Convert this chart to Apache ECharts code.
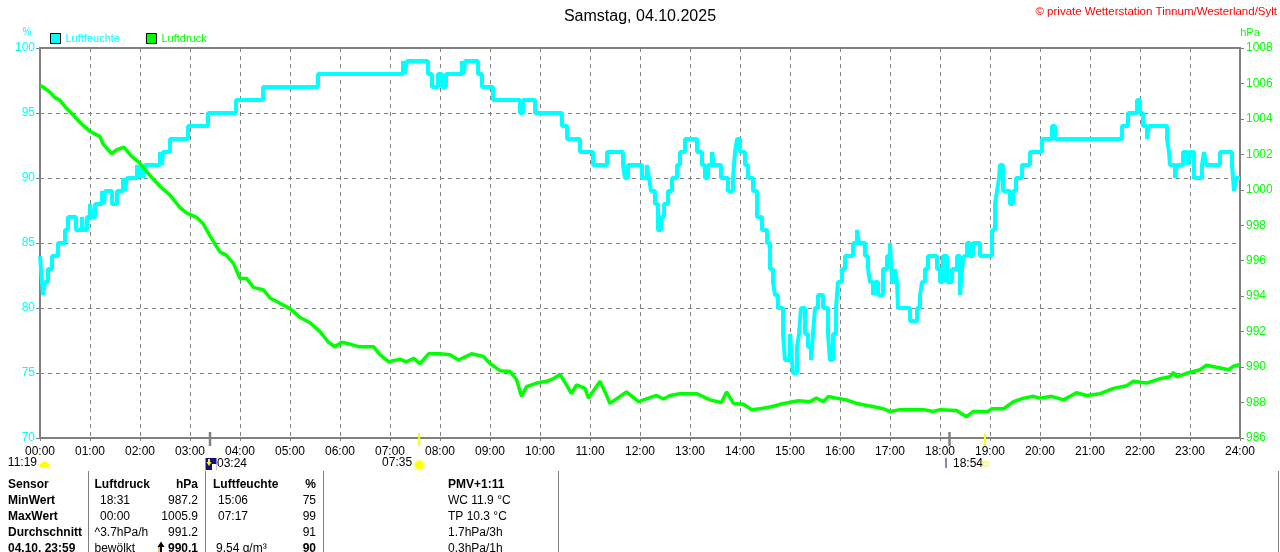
<!DOCTYPE html>
<html><head><meta charset="utf-8">
<script src="https://cdn.jsdelivr.net/npm/echarts@6/dist/echarts.min.js"></script>
<style>html,body{margin:0;padding:0;background:#fff}#c{width:1280px;height:552px}</style>
</head><body><div id="c"></div>
<script>
const FONT = '"Liberation Sans", Arial, sans-serif';

const hourLabels = ['00:00','01:00','02:00','03:00','04:00','05:00','06:00','07:00','08:00','09:00','10:00','11:00','12:00',
  '13:00','14:00','15:00','16:00','17:00','18:00','19:00','20:00','21:00','22:00','23:00','24:00'];

// Luftfeuchte [hour, %] (step values)
const humidity = [[0,84],[0.02,83],[0.06,81],[0.10,82],[0.16,83],[0.24,84],[0.36,85],[0.50,86],[0.56,87],[0.72,86],[0.84,87],[0.86,86],
  [0.94,87],[1.00,88],[1.04,87],[1.10,88],[1.24,89],[1.28,88],[1.30,89],[1.44,88],[1.54,89],[1.66,90],[1.70,89],[1.74,90],[1.94,91],
  [1.98,90],[2.02,91],[2.06,90],[2.10,91],[2.40,92],[2.44,91],[2.46,92],[2.60,93],[2.96,94],[3.36,95],[3.92,96],[4.46,97],[5.56,98],
  [7.26,99],[7.30,98],[7.34,99],[7.76,98],[7.84,97],[7.96,98],[8.04,97],[8.12,98],[8.44,99],[8.48,98],[8.50,99],[8.76,98],[8.84,97],
  [9.06,96],[9.60,95],[9.66,96],[9.90,95],[10.44,94],[10.54,93],[10.80,92],[11.06,91],[11.34,92],[11.66,91],[11.70,90],[11.76,91],
  [12.04,90],[12.14,91],[12.18,90],[12.22,89],[12.30,88],[12.36,86],[12.42,87],[12.48,88],[12.56,89],[12.64,90],[12.74,91],[12.80,92],
  [12.90,93],[13.14,92],[13.24,91],[13.30,90],[13.36,91],[13.44,92],[13.48,91],[13.62,90],[13.76,89],[13.86,90],[13.90,92],[13.94,93],
  [14.00,92],[14.10,91],[14.16,90],[14.26,89],[14.34,87],[14.44,86],[14.54,85],[14.60,83],[14.66,82],[14.70,81],[14.76,80],[14.86,78],
  [14.90,76],[15.00,78],[15.04,76],[15.06,75],[15.14,77],[15.18,78],[15.22,80],[15.30,78],[15.36,77],[15.42,76],[15.46,78],[15.50,80],
  [15.56,81],[15.66,80],[15.76,78],[15.80,76],[15.86,78],[15.92,80],[15.96,82],[16.04,83],[16.10,84],[16.26,85],[16.34,86],[16.38,85],
  [16.50,84],[16.56,83],[16.60,82],[16.66,81],[16.70,82],[16.76,81],[16.86,83],[16.94,84],[17.00,85],[17.04,82],[17.10,83],[17.14,82],
  [17.16,80],[17.40,79],[17.54,80],[17.60,81],[17.64,82],[17.70,83],[17.76,84],[17.94,83],[18.00,82],[18.06,84],[18.14,82],[18.24,83],
  [18.34,84],[18.40,81],[18.44,83],[18.48,84],[18.54,85],[18.60,84],[18.66,85],[18.80,84],[19.04,86],[19.10,88],[19.14,89],[19.18,90],
  [19.20,91],[19.26,89],[19.40,88],[19.46,89],[19.52,90],[19.64,91],[19.80,92],[20.04,93],[20.24,94],[20.30,93],[21.64,94],[21.76,95],
  [21.94,96],[22.00,95],[22.06,94],[22.14,93],[22.18,94],[22.54,93],[22.58,92],[22.60,91],[22.70,90],[22.74,91],[22.86,92],[22.96,91],
  [23.00,92],[23.08,90],[23.24,91],[23.28,92],[23.32,91],[23.60,92],[23.84,91],[23.86,90],[23.88,89],[23.92,90],[24.00,90]];

// Luftdruck [hour, hPa]
const pressure = [[0,1005.9],[0.06,1005.8],[0.20,1005.5],[0.30,1005.2],[0.40,1005.05],[0.53,1004.6],[0.67,1004.2],[0.80,1003.8],
  [1.00,1003.3],[1.20,1003.0],[1.26,1002.6],[1.43,1002.05],[1.53,1002.25],[1.68,1002.4],[1.83,1001.9],[2.00,1001.5],[2.20,1000.8],
  [2.40,1000.2],[2.60,999.7],[2.80,999.0],[2.93,998.7],[3.13,998.45],[3.26,998.1],[3.40,997.4],[3.53,996.8],[3.60,996.5],[3.73,996.3],
  [3.87,995.85],[4.00,995.0],[4.13,995.0],[4.27,994.5],[4.47,994.35],[4.60,993.9],[4.80,993.6],[5.00,993.3],[5.20,992.8],[5.40,992.5],
  [5.60,992.0],[5.77,991.4],[5.90,991.15],[6.03,991.4],[6.20,991.3],[6.37,991.15],[6.67,991.15],[6.80,990.7],[6.97,990.3],[7.20,990.45],
  [7.33,990.3],[7.47,990.5],[7.60,990.2],[7.77,990.75],[8.00,990.75],[8.20,990.7],[8.37,990.4],[8.63,990.75],[8.87,990.6],[9.00,990.2],
  [9.20,989.8],[9.40,989.75],[9.53,989.3],[9.63,988.35],[9.73,988.9],[9.93,989.1],[10.13,989.2],[10.27,989.35],[10.40,989.6],[10.53,989.0],
  [10.63,988.5],[10.73,989.0],[10.90,988.8],[10.97,988.25],[11.20,989.2],[11.30,988.6],[11.40,987.95],[11.60,988.35],[11.73,988.6],
  [11.97,988.05],[12.17,988.25],[12.33,988.4],[12.47,988.2],[12.60,988.4],[12.80,988.5],[13.13,988.5],[13.40,988.15],[13.63,988.0],
  [13.73,988.6],[13.87,987.95],[14.07,987.9],[14.23,987.6],[14.40,987.65],[14.60,987.75],[14.80,987.9],[15.17,988.1],[15.40,988.05],
  [15.53,988.25],[15.67,988.05],[15.77,988.35],[15.93,988.25],[16.13,988.15],[16.33,987.95],[16.60,987.8],[16.87,987.65],[17.00,987.5],
  [17.20,987.6],[17.40,987.6],[17.67,987.6],[17.87,987.5],[18.00,987.6],[18.33,987.55],[18.53,987.2],[18.67,987.5],[18.97,987.5],
  [19.03,987.65],[19.27,987.65],[19.47,988.05],[19.67,988.25],[19.87,988.35],[20.00,988.25],[20.23,988.35],[20.47,988.15],[20.73,988.55],
  [20.93,988.4],[21.20,988.5],[21.47,988.8],[21.73,988.95],[21.87,989.2],[22.13,989.1],[22.40,989.35],[22.60,989.45],[22.67,989.7],
  [22.73,989.45],[22.93,989.65],[23.20,989.85],[23.33,990.1],[23.60,989.95],[23.77,989.85],[23.87,990.05],[24.00,990.15]];

// events below the time axis (hours)
const moonTimes = [3.4, 18.19];
const sunTimes = [7.583, 18.9];
const eventTexts = ['11:19', '03:24', '07:35', '18:54'];

// statistics table
const tableHeader = ['Sensor', 'Luftdruck', 'hPa', 'Luftfeuchte', '%', 'PMV+1:11'];
const rowLabels = ['MinWert', 'MaxWert', 'Durchschnitt', '04.10. 23:59'];
const pressTimeCol = ['18:31', '00:00', '^3.7hPa/h', 'bewölkt'];
const pressValCol = ['987.2', '1005.9', '991.2', '990.1'];
const humTimeCol = ['15:06', '07:17', '', '9.54 g/m³'];
const humValCol = ['75', '99', '91', '90'];
const extraCol = ['WC 11.9 °C', 'TP 10.3 °C', '1.7hPa/3h', '0.3hPa/1h'];

const GREY = '#808080';
const chart = echarts.init(document.getElementById('c'));
chart.setOption({
  animation: false,
  backgroundColor: '#fff',
  textStyle: { fontFamily: FONT },
  title: { text: 'Samstag, 04.10.2025', left: 'center', top: 4,
    textStyle: { fontSize: 16, fontWeight: 'normal', color: '#000', fontFamily: FONT } },
  legend: {
    left: 50, top: 33, padding: 0, itemWidth: 10, itemHeight: 10, itemGap: 26, icon: 'rect',
    textStyle: { fontSize: 11, fontFamily: FONT },
    data: [
      { name: 'Luftfeuchte', textStyle: { color: '#00ffff' }, itemStyle: { color: '#00ffff', borderColor: '#000', borderWidth: 1 } },
      { name: 'Luftdruck', textStyle: { color: '#00ff00' }, itemStyle: { color: '#00ff00', borderColor: '#000', borderWidth: 1 } }
    ]
  },
  grid: { left: 40, right: 40, top: 48, bottom: 114, show: true, borderColor: GREY, borderWidth: 2 },
  xAxis: {
    type: 'value', min: 0, max: 24, interval: 1,
    axisLine: { lineStyle: { color: GREY, width: 2 } },
    axisTick: { show: true, length: 3, lineStyle: { color: GREY } },
    axisLabel: { color: '#000', fontSize: 12, margin: 8, fontFamily: FONT, formatter: v => hourLabels[v] },
    splitLine: { show: true, lineStyle: { color: GREY, type: [4, 4], width: 1 } }
  },
  yAxis: [
    { type: 'value', min: 70, max: 100, interval: 5, position: 'left',
      axisLine: { show: true, lineStyle: { color: GREY, width: 2 } },
      axisTick: { show: true, length: 4, lineStyle: { color: GREY } },
      axisLabel: { color: '#00ffff', fontSize: 12, margin: 5, fontFamily: FONT, formatter: v => String(v) },
      splitLine: { show: true, lineStyle: { color: GREY, type: [4, 4], width: 1 } } },
    { type: 'value', min: 986, max: 1008, interval: 2, position: 'right',
      axisLine: { show: true, lineStyle: { color: GREY, width: 2 } },
      axisTick: { show: true, length: 4, lineStyle: { color: GREY } },
      axisLabel: { color: '#00ff00', fontSize: 12, margin: 6, fontFamily: FONT, formatter: v => String(v) },
      splitLine: { show: false } }
  ],
  series: [
    { name: 'Luftfeuchte', type: 'line', step: 'end', data: humidity, yAxisIndex: 0, symbol: 'none',
      lineStyle: { color: '#00ffff', width: 4 }, itemStyle: { color: '#00ffff' }, z: 2 },
    { name: 'Luftdruck', type: 'line', data: pressure, yAxisIndex: 1, symbol: 'none',
      lineStyle: { color: '#00ff00', width: 3.5 }, itemStyle: { color: '#00ff00' }, z: 3 }
  ]
});

const px = t => chart.convertToPixel({ xAxisIndex: 0 }, t);
const g = [];
function txt(s, x, y, o) {
  o = o || {};
  g.push({ type: 'text', silent: true, z: 100, style: {
    text: s, x: x, y: y, fill: o.fill || '#000', fontSize: o.size || 12, fontFamily: FONT,
    fontWeight: o.bold ? 'bold' : 'normal', align: o.align || 'left', verticalAlign: 'middle' } });
}
function line(x1, y1, x2, y2, color, w) {
  g.push({ type: 'line', silent: true, z: 100, shape: { x1, y1, x2, y2 }, style: { stroke: color, lineWidth: w } });
}
function rect(x, y, w, h, fill, stroke) {
  g.push({ type: 'rect', silent: true, z: 100, shape: { x, y, width: w, height: h },
    style: { fill: fill || 'none', stroke: stroke || null, lineWidth: 1 } });
}
function circ(cx, cy, r, fill) {
  g.push({ type: 'circle', silent: true, z: 100, shape: { cx, cy, r }, style: { fill } });
}
function poly(points, fill) {
  g.push({ type: 'polygon', silent: true, z: 100, shape: { points }, style: { fill } });
}

// header texts
txt('© private Wetterstation Tinnum/Westerland/Sylt', 1277, 12, { fill: '#ff0000', size: 11.5, align: 'right' });
txt('%', 27, 32, { fill: '#00ffff', size: 10, align: 'center' });
txt('hPa', 1250, 33, { fill: '#00ff00', size: 11, align: 'center' });

// moon / sun ticks
moonTimes.forEach(t => { const x = px(t); line(x, 432, x, 446, GREY, 2.5); });
sunTimes.forEach(t => { const x = px(t); line(x, 433, x, 446, '#ffff00', 2); });

// 11:19 + cloud
txt(eventTexts[0], 37, 463, { align: 'right' });
circ(44.5, 464.5, 3, '#ffff00');
rect(40, 464, 9, 3, '#ffff00');
circ(41.5, 465.5, 1.8, '#ffff00');
circ(47.5, 465.5, 1.8, '#ffff00');

// 03:24 moon icon
const m1 = px(moonTimes[0]);
rect(m1 - 4.5, 458, 11, 12, '#101080');
line(m1 - 1, 459, m1 - 1, 464, '#ffff00', 2);
poly([[m1 - 3.5, 462], [m1 + 1.5, 462], [m1 - 1, 466]], '#ffff00');
rect(m1 + 2, 464, 4.5, 6, '#ffffff');
txt(eventTexts[1], m1 + 7, 464);

// 07:35 sunrise
const s1 = px(sunTimes[0]);
txt(eventTexts[2], s1 - 7, 463, { align: 'right' });
circ(s1, 465, 6, '#ffffb0');
circ(s1, 465, 4.2, '#ffff00');

// 18:54 sunset
const s2 = px(sunTimes[1]);
const m2 = px(moonTimes[1]);
line(m2 - 3.5, 458, m2 - 3.5, 468, '#101080', 1);
txt(eventTexts[3], s2 - 32, 464);
rect(s2 - 2, 462, 5, 4, null, '#ffff00');

// table separators
[88.5, 205.5, 323.5, 558.5, 1278.5].forEach(x => line(x, 471, x, 552, GREY, 1));

// table header
const rowY = [501, 517, 533, 548.5];
txt(tableHeader[0], 8, 485, { bold: true });
txt(tableHeader[1], 94.5, 485, { bold: true });
txt(tableHeader[2], 198, 485, { bold: true, align: 'right' });
txt(tableHeader[3], 213, 485, { bold: true });
txt(tableHeader[4], 316, 485, { bold: true, align: 'right' });
txt(tableHeader[5], 448, 485, { bold: true });

rowLabels.forEach((s, i) => {
  const y = rowY[i];
  txt(s, 8, y, { bold: true });
  txt(pressTimeCol[i], i < 2 ? 100 : 94.5, y);
  txt(pressValCol[i], 198, y, { align: 'right', bold: i === 3 });
  txt(humTimeCol[i], i < 2 ? 218 : 216, y);
  txt(humValCol[i], 316, y, { align: 'right', bold: i === 3 });
  txt(extraCol[i], 448, y);
});
// trend arrow before last pressure value
poly([[157.5, 547], [161, 541.5], [164.5, 547]], '#000');
rect(160, 546, 2, 6, '#000');
rect(158.5, 547, 1, 5, '#d08000');

chart.setOption({ graphic: g });
</script>
</body></html>
